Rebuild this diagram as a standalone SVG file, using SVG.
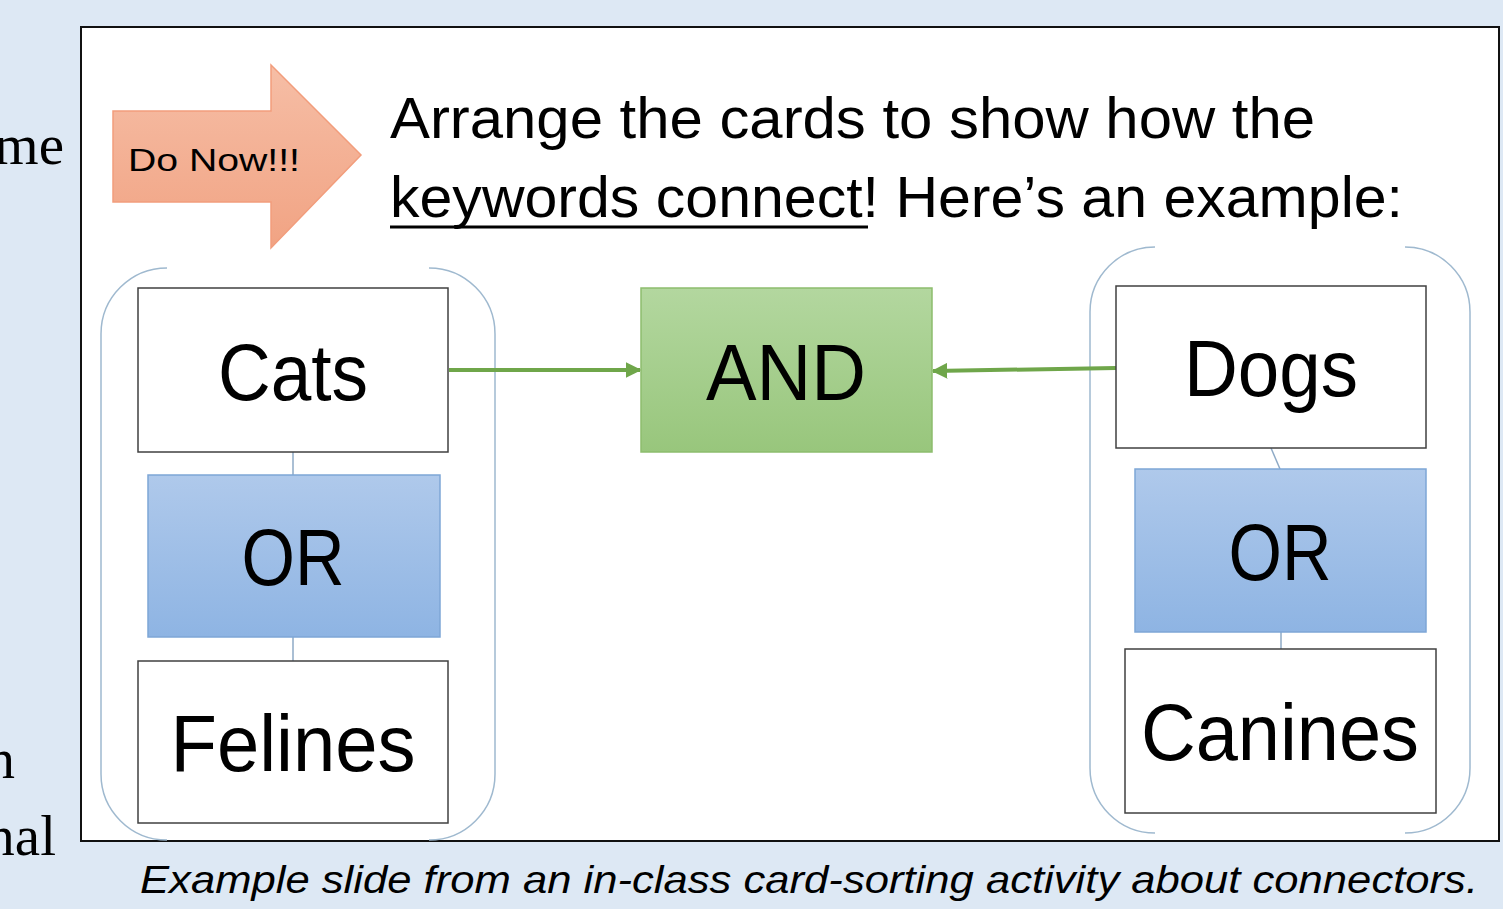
<svg xmlns="http://www.w3.org/2000/svg" width="1503" height="909" viewBox="0 0 1503 909">
<defs>
<linearGradient id="gBlue" x1="0" y1="0" x2="0" y2="1"><stop offset="0" stop-color="#afc9eb"/><stop offset="1" stop-color="#8eb4e3"/></linearGradient>
<linearGradient id="gGreen" x1="0" y1="0" x2="0" y2="1"><stop offset="0" stop-color="#b3d79f"/><stop offset="1" stop-color="#98c67c"/></linearGradient>
<linearGradient id="gSalmon" x1="0" y1="0" x2="0" y2="1"><stop offset="0" stop-color="#f6bea6"/><stop offset="1" stop-color="#f1a383"/></linearGradient>
<marker id="ah" viewBox="0 0 10 10" refX="9" refY="5" markerWidth="4" markerHeight="4" orient="auto"><path d="M0,0 L10,5 L0,10 z" fill="#6fa64a"/></marker>
<style>
.card{fill:#fff;stroke:#404040;stroke-width:1.5}
.or{fill:url(#gBlue);stroke:#7ea6d6;stroke-width:1.5}
.and{fill:url(#gGreen);stroke:#8dbd6d;stroke-width:1.5}
.big{font-family:"Liberation Sans",Arial,sans-serif;font-size:80px;fill:#000;text-anchor:middle}
.title{font-family:"Liberation Sans",Arial,sans-serif;font-size:58px;fill:#000}
.serif{font-family:"Liberation Serif","Times New Roman",serif;font-size:57px;fill:#000;text-anchor:end}
.bracket{fill:none;stroke:#9fb9cf;stroke-width:1.5}
.link{stroke:#8eaac6;stroke-width:1.5;fill:none}
.green{stroke:#6fa64a;stroke-width:4;fill:none;marker-end:url(#ah)}
</style>
</defs>
<rect x="0" y="0" width="1503" height="909" fill="#dde8f4"/>
<text class="serif" x="64" y="164">me</text>
<text class="serif" x="15" y="778">n</text>
<text class="serif" x="56" y="855">nal</text>
<rect x="81" y="27" width="1418" height="814" fill="#fff" stroke="#111" stroke-width="2"/>
<g id="donow">
<path d="M113,111 H271 V65 L361,155 L271,248 V202 H113 Z" fill="url(#gSalmon)" stroke="#f29d7c" stroke-width="1.5"/>
<text x="128" y="171" font-family="Liberation Sans,Arial,sans-serif" font-size="32" textLength="172" lengthAdjust="spacingAndGlyphs">Do Now!!!</text>
</g>
<g id="title">
<text class="title" x="390" y="138" textLength="925" lengthAdjust="spacingAndGlyphs">Arrange the cards to show how the</text>
<text class="title" x="390" y="217" textLength="1013" lengthAdjust="spacingAndGlyphs">keywords connect! Here’s an example:</text>
<line x1="390" y1="227" x2="868" y2="227" stroke="#000" stroke-width="3"/>
</g>
<g id="bracket-left" class="bracket">
<path d="M167,268 A66,66 0 0 0 101,334 V774 A66,66 0 0 0 167,840"/>
<path d="M429,268 A66,66 0 0 1 495,334 V774 A66,66 0 0 1 429,840"/>
</g>
<g id="bracket-right" class="bracket">
<path d="M1155,247 A65,65 0 0 0 1090,312 V768 A65,65 0 0 0 1155,833"/>
<path d="M1405,247 A65,65 0 0 1 1470,312 V768 A65,65 0 0 1 1405,833"/>
</g>
<g id="connectors">
<line class="link" x1="293" y1="452" x2="293" y2="475"/>
<line class="link" x1="293" y1="637" x2="293" y2="661"/>
<line class="link" x1="1271" y1="448" x2="1280" y2="469"/>
<line class="link" x1="1281" y1="632" x2="1281" y2="649"/>
<line class="green" x1="449" y1="370" x2="640" y2="370"/>
<line class="green" x1="1116" y1="368" x2="933" y2="371"/>
</g>
<g id="cats"><rect class="card" x="138" y="288" width="310" height="164"/><text class="big" x="293" y="400" textLength="150" lengthAdjust="spacingAndGlyphs">Cats</text></g>
<g id="or-left"><rect class="or" x="148" y="475" width="292" height="162"/><text class="big" x="293" y="585" textLength="103" lengthAdjust="spacingAndGlyphs">OR</text></g>
<g id="felines"><rect class="card" x="138" y="661" width="310" height="162"/><text class="big" x="293" y="771" textLength="245" lengthAdjust="spacingAndGlyphs">Felines</text></g>
<g id="and"><rect class="and" x="641" y="288" width="291" height="164"/><text class="big" x="786" y="400" textLength="160" lengthAdjust="spacingAndGlyphs">AND</text></g>
<g id="dogs"><rect class="card" x="1116" y="286" width="310" height="162"/><text class="big" x="1271" y="396" textLength="174" lengthAdjust="spacingAndGlyphs">Dogs</text></g>
<g id="or-right"><rect class="or" x="1135" y="469" width="291" height="163"/><text class="big" x="1280" y="580" textLength="103" lengthAdjust="spacingAndGlyphs">OR</text></g>
<g id="canines"><rect class="card" x="1125" y="649" width="311" height="164"/><text class="big" x="1280" y="760" textLength="278" lengthAdjust="spacingAndGlyphs">Canines</text></g>
<text x="140" y="893" font-family="Liberation Sans,Arial,sans-serif" font-style="italic" font-size="38" textLength="1338" lengthAdjust="spacingAndGlyphs">Example slide from an in-class card-sorting activity about connectors.</text>
</svg>
